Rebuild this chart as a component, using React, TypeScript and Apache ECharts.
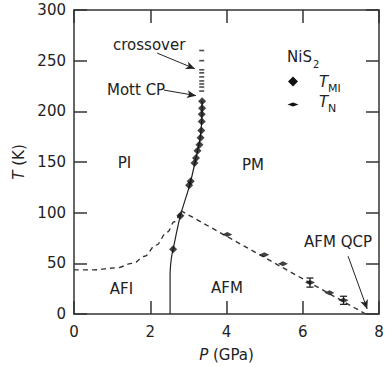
import React, { useEffect, useRef } from 'react';
import * as echarts from 'echarts';

const FONT = 'DejaVu Sans';
const INK = '#222';

// axis ticks
const xMin = 0, xMax = 8, xStep = 2;
const yMin = 0, yMax = 300, yStep = 50;

// T_MI data points [P (GPa), T (K)]
const tmiPoints: number[][] = [
  [3.36, 210], [3.36, 203], [3.35, 197], [3.35, 190], [3.34, 181], [3.32, 174],
  [3.29, 167], [3.24, 161], [3.20, 154], [3.16, 149], [3.06, 131], [3.02, 127],
  [2.79, 97], [2.60, 64],
];
// T_N data points
const tnPoints: number[][] = [
  [4.02, 78.5], [4.99, 58.5], [5.48, 49.5], [6.19, 31], [6.70, 21], [7.07, 13.5],
];
// T_N error bars [P, T, err]
const tnErrors: number[][] = [
  [6.19, 31, 4.5], [7.07, 13.5, 4],
];
// crossover points
const crossoverPoints: number[][] = [
  [3.35, 260], [3.35, 250], [3.35, 241], [3.35, 238], [3.35, 234], [3.35, 230],
  [3.35, 227], [3.35, 224], [3.35, 220],
];
// T_MI boundary (solid)
const tmiLine: number[][] = [
  [2.52, 0], [2.52, 38], [2.55, 54], [2.60, 64], [2.79, 97], [3.04, 128],
  [3.20, 154], [3.30, 172], [3.35, 190], [3.36, 210],
];
// T_N boundary, curved part (dashed)
const tnCurve: number[][] = [
  [0, 43.5], [0.5, 43.5], [1.1, 45.5], [1.55, 50], [1.85, 57], [2.15, 68],
  [2.45, 81], [2.63, 91], [2.8, 102],
];
// T_N boundary, straight part (dashed)
const tnLine: number[][] = [
  [2.8, 102], [7.65, 0],
];
// annotation arrows [from, to]
const arrows: number[][][] = [
  [[2.18, 257.5], [3.17, 242]],
  [[2.36, 221], [3.2, 215.5]],
  [[7.19, 57], [7.69, 5]],
];

export default function App() {
  const ref = useRef<HTMLDivElement>(null);
  useEffect(() => {
    if (!ref.current) return;
    const chart = echarts.init(ref.current, null, { renderer: 'svg' });
    const axisLine = { show: true, onZero: false, lineStyle: { color: '#333', width: 1.5 } };
    const axisTick = { show: true, inside: true, length: 13, lineStyle: { color: '#333', width: 1.5 } };
    const labelStyle = { fontSize: 15, color: INK, fontFamily: FONT };
    const dashed = { color: '#333', width: 1.4, type: [5, 4] as any };
    const txt = (text: string, x: number, y: number, align: string, size = 15, italic = false) => ({
      type: 'text', x, y, silent: true,
      style: {
        text, fill: INK, fontSize: size, fontFamily: FONT,
        fontStyle: italic ? 'italic' : 'normal',
        align, verticalAlign: 'middle', textAlign: align, textVerticalAlign: 'middle',
      },
    });
    const option: any = {
      animation: false,
      backgroundColor: '#fff',
      textStyle: { fontFamily: FONT },
      grid: { left: 74, right: 9, top: 10, bottom: 52 },
      xAxis: [
        {
          type: 'value', min: xMin, max: xMax, interval: xStep, position: 'bottom',
          axisLine, axisTick, splitLine: { show: false },
          axisLabel: { ...labelStyle, margin: 10 },
          name: '{i|P} (GPa)', nameLocation: 'middle', nameGap: 33,
          nameTextStyle: { ...labelStyle, rich: { i: { ...labelStyle, fontStyle: 'italic' } } },
        },
        {
          type: 'value', min: xMin, max: xMax, interval: xStep, position: 'top',
          axisLine, axisTick, splitLine: { show: false }, axisLabel: { show: false },
        },
      ],
      yAxis: [
        {
          type: 'value', min: yMin, max: yMax, interval: yStep, position: 'left',
          axisLine, axisTick, splitLine: { show: false },
          axisLabel: { ...labelStyle, margin: 8 },
          name: '{i|T} (K)', nameLocation: 'middle', nameGap: 34,
          nameTextStyle: { ...labelStyle, rich: { i: { ...labelStyle, fontStyle: 'italic' } } },
        },
        {
          type: 'value', min: yMin, max: yMax, interval: yStep, position: 'right',
          axisLine, axisTick, splitLine: { show: false }, axisLabel: { show: false },
        },
      ],
      series: [
        {
          type: 'line', data: tmiLine, smooth: 0.3, showSymbol: false, silent: true,
          lineStyle: { color: INK, width: 1.2 }, z: 2,
        },
        {
          type: 'line', data: tnCurve, smooth: 0.4, smoothMonotone: 'x', showSymbol: false, silent: true,
          lineStyle: dashed, z: 2,
        },
        {
          type: 'line', data: tnLine, showSymbol: false, silent: true,
          lineStyle: dashed, z: 2,
        },
        {
          type: 'custom', data: tnErrors, silent: true, z: 3,
          renderItem: (params: any, api: any) => {
            const x = api.value(0), y = api.value(1), e = api.value(2);
            const t = api.coord([x, y + e]);
            const b = api.coord([x, y - e]);
            const w = 3.5;
            const st = { stroke: INK, lineWidth: 1.3 };
            return {
              type: 'group',
              children: [
                { type: 'line', shape: { x1: t[0], y1: t[1], x2: b[0], y2: b[1] }, style: st },
                { type: 'line', shape: { x1: t[0] - w, y1: t[1], x2: t[0] + w, y2: t[1] }, style: st },
                { type: 'line', shape: { x1: b[0] - w, y1: b[1], x2: b[0] + w, y2: b[1] }, style: st },
              ],
            };
          },
        },
        {
          type: 'scatter', data: tmiPoints, symbol: 'diamond', symbolSize: 8, silent: true,
          itemStyle: { color: '#111' }, z: 4,
        },
        {
          type: 'scatter', data: tnPoints, symbol: 'diamond', symbolSize: [10, 5], silent: true,
          itemStyle: { color: '#111' }, z: 4,
        },
        {
          type: 'scatter', data: crossoverPoints, symbol: 'rect', symbolSize: [5, 1.6], silent: true,
          itemStyle: { color: '#222' }, z: 4,
          markLine: {
            silent: true, symbol: ['none', 'arrow'], symbolSize: [6, 9],
            label: { show: false },
            lineStyle: { type: 'solid', color: INK, width: 1 },
            data: arrows.map(([a, b]) => [{ coord: a }, { coord: b }]),
          },
        },
      ],
      graphic: [
        txt('crossover', 113, 45, 'left'),
        txt('Mott CP', 107, 90, 'left'),
        txt('PI', 124.5, 163, 'center'),
        txt('PM', 253, 165, 'center'),
        txt('AFI', 121.5, 289, 'center'),
        txt('AFM', 227, 288, 'center'),
        txt('AFM QCP', 338, 242, 'center'),
        txt('NiS', 287, 57, 'left'),
        txt('2', 313, 64, 'left', 10),
        txt('T', 319, 82, 'left', 15, true),
        txt('MI', 328, 88, 'left', 11),
        txt('T', 319, 102, 'left', 15, true),
        txt('N', 328, 108, 'left', 11),
        {
          type: 'polygon', silent: true,
          shape: { points: [[293, 76.5], [298, 81.5], [293, 86.5], [288, 81.5]] },
          style: { fill: '#111' },
        },
        {
          type: 'polygon', silent: true,
          shape: { points: [[287.5, 104.5], [293, 102.5], [298.5, 104.5], [293, 106.5]] },
          style: { fill: '#111' },
        },
      ],
    };
    chart.setOption(option);
    return () => chart.dispose();
  }, []);
  return (
    <div
      ref={ref}
      style={{ position: 'fixed', left: 0, top: 0, width: 388, height: 367, background: '#fff' }}
    />
  );
}
